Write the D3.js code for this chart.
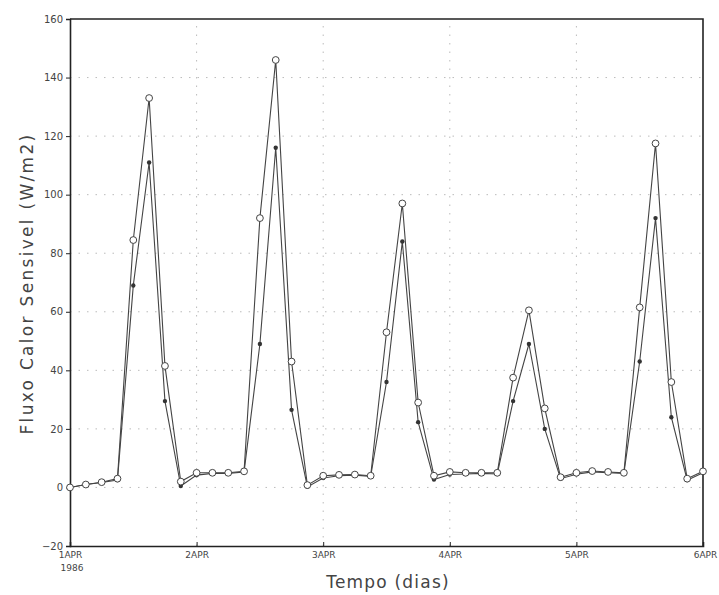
<!DOCTYPE html>
<html>
<head>
<meta charset="utf-8">
<script src="https://cdn.jsdelivr.net/npm/d3@7"></script>
<style>
  body { margin: 0; background: #fff; }
  svg text { font-family: "DejaVu Sans", sans-serif; fill: #333; }
</style>
</head>
<body>
<div id="chart"></div>
<script>
"use strict";

// 3-hourly samples, 1APR 00Z .. 6APR 00Z (41 points)
const hours = d3.range(0, 121, 3);
const fluxoAberto = [0, 1, 1.8, 3, 84.5, 133, 41.5, 2, 5, 5, 5, 5.5,
  92, 146, 43, 0.8, 4, 4.3, 4.4, 4, 53, 97, 29, 4, 5.3, 5, 5, 5,
  37.5, 60.5, 27, 3.5, 5, 5.6, 5.3, 5, 61.5, 117.5, 36, 3, 5.5];
const fluxoCheio = [0, 1, 1.7, 2.5, 69, 111, 29.5, 0.5, 4.2, 4.8, 4.8, 5.3,
  49, 116, 26.5, 0.2, 3.2, 4, 4.2, 3.8, 36, 84, 22.3, 2.7, 4.4, 4.6, 4.8, 4.6,
  29.5, 49, 20, 3, 4.5, 5.3, 5, 4.8, 43, 92, 24, 2.5, 5];
const dayTicks = [0, 24, 48, 72, 96, 120];
const dayLabels = ["1APR", "2APR", "3APR", "4APR", "5APR", "6APR"];
const yTicks = [-20, 0, 20, 40, 60, 80, 100, 120, 140, 160];

const width = 719, height = 595;
const margin = {top: 19, right: 16, bottom: 49, left: 70};

const svg = d3.select("#chart")
    .append("svg")
    .attr("width", width)
    .attr("height", height);

const x = d3.scaleLinear()
    .domain([0, 120])
    .range([margin.left, width - margin.right]);

const y = d3.scaleLinear()
    .domain([-20, 160])
    .range([height - margin.bottom, margin.top]);

// dotted grid
svg.append("g")
    .selectAll("line")
    .data(yTicks.filter(d => d >= 0 && d < 160))
    .enter()
    .append("line")
    .attr("x1", x(0))
    .attr("x2", x(120))
    .attr("y1", d => y(d))
    .attr("y2", d => y(d))
    .style("stroke", "#bbb")
    .style("stroke-dasharray", "1.5,7");

svg.append("g")
    .selectAll("line")
    .data(dayTicks.slice(1, -1))
    .enter()
    .append("line")
    .attr("x1", d => x(d))
    .attr("x2", d => x(d))
    .attr("y1", y(-20))
    .attr("y2", y(160))
    .style("stroke", "#bbb")
    .style("stroke-dasharray", "1.5,7");

// axes
const yAxis = svg.append("g")
    .attr("transform", `translate(${margin.left},0)`)
    .call(d3.axisLeft(y).tickValues(yTicks).tickSize(4).tickPadding(3));

const xAxis = svg.append("g")
    .attr("transform", `translate(0,${y(-20)})`)
    .call(d3.axisBottom(x).tickValues(dayTicks).tickFormat((d, i) => dayLabels[i]).tickSize(-4).tickPadding(6));

[yAxis, xAxis].forEach(g => {
  g.select(".domain").style("stroke", "#222").style("stroke-width", 1.6);
  g.selectAll(".tick line").style("stroke", "#222");
  g.selectAll("text").style("font-size", "10px").style("fill", "#444");
});

xAxis.selectAll(".tick text")
    .style("font-size", "9px")
    .attr("dx", (d, i) => i === 5 ? "2px" : "0");

xAxis.append("text")
    .attr("x", x(0) + 2)
    .attr("y", 25)
    .attr("text-anchor", "middle")
    .style("font-size", "9px")
    .style("fill", "#444")
    .text("1986");

// top and right frame
svg.append("path")
    .attr("d", `M${x(0)},${y(160)}H${x(120)}V${y(-20)}`)
    .style("fill", "none")
    .style("stroke", "#222")
    .style("stroke-width", 1.6);

// series
const line = d3.line()
    .x((d, i) => x(hours[i]))
    .y(d => y(d));

svg.append("path")
    .datum(fluxoCheio)
    .attr("d", line)
    .style("fill", "none")
    .style("stroke", "#444")
    .style("stroke-width", 1.1);

svg.append("path")
    .datum(fluxoAberto)
    .attr("d", line)
    .style("fill", "none")
    .style("stroke", "#444")
    .style("stroke-width", 1.1);

svg.append("g")
    .selectAll("circle")
    .data(fluxoCheio)
    .enter()
    .append("circle")
    .attr("cx", (d, i) => x(hours[i]))
    .attr("cy", d => y(d))
    .attr("r", 2.2)
    .style("fill", "#333");

svg.append("g")
    .selectAll("circle")
    .data(fluxoAberto)
    .enter()
    .append("circle")
    .attr("cx", (d, i) => x(hours[i]))
    .attr("cy", d => y(d))
    .attr("r", 3.4)
    .style("fill", "#fff")
    .style("stroke", "#444")
    .style("stroke-width", 1);

// titles
svg.append("text")
    .attr("transform", `translate(33,${(y(-20) + y(160)) / 2 + 1}) rotate(-90)`)
    .attr("text-anchor", "middle")
    .style("font-size", "17px")
    .style("letter-spacing", "2.3px")
    .style("fill", "#444")
    .text("Fluxo Calor Sensivel (W/m2)");

svg.append("text")
    .attr("x", 388)
    .attr("y", 588)
    .attr("text-anchor", "middle")
    .style("font-size", "17px")
    .style("letter-spacing", "1.2px")
    .style("fill", "#444")
    .text("Tempo (dias)");
</script>
</body>
</html>
